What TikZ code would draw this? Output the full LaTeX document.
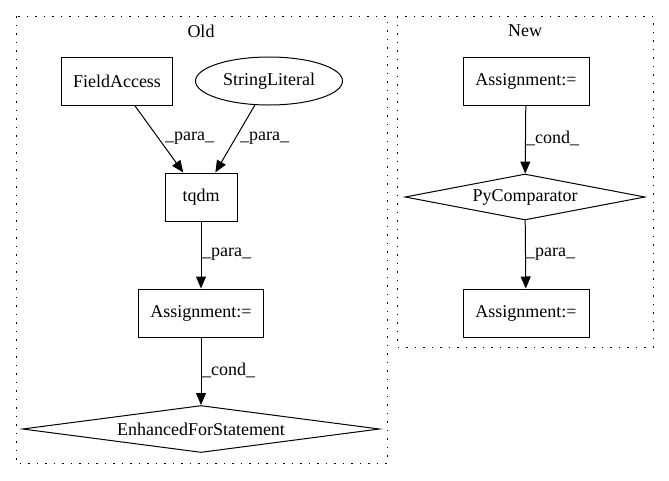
\documentclass[tikz,border=0pt]{standalone}
\usepackage{fontspec}
\setmainfont{Liberation Serif}
\usepackage{tikz}
\usetikzlibrary{shapes.geometric}
\usetikzlibrary{arrows.meta}

\begin{document}
\begin{tikzpicture}[x=1pt, y=-1pt, font=\fontsize{18}{21}\selectfont]
            \tikzset{box/.style = {draw, line width=1pt, rectangle, inner sep=0pt, minimum height=48pt}}
            \tikzset{ellip/.style = {draw, line width=1pt, ellipse, inner sep=0pt, minimum width=147pt, minimum height=48pt}}
            \tikzset{diam/.style = {draw, line width=1pt, diamond, inner sep=0pt}}
            \tikzset{edge/.style = {-{Triangle[length=12pt, width=10pt]}, line width=1pt}}
            \tikzset{lbl/.style = {anchor=west, inner sep=0pt}}
            \tikzset{cluster/.style = {line width=1pt, dash pattern=on 1.5pt off 7pt}}

            \useasboundingbox (0,0) rectangle (669,480);

            % old
            \draw[cluster] (16,16) rectangle (387,463);
            \node (oldtitle) at (201,31) {Old};
            \node[box, minimum width=111pt] (field) at (117,81) {FieldAccess};
            \node[ellip] (strlit) at (269,81) {StringLiteral};
            \node[box, minimum width=72pt] (tqdm) at (201,197) {tqdm};
            \node[box, minimum width=125pt] (oldasgn) at (201,313) {Assignment:=};
            \node[diam, minimum width=357pt, minimum height=47pt, aspect=7.6] (efs) at (201,429) {EnhancedForStatement};
            \draw[edge] (field) -- (tqdm);
            \draw[edge] (strlit) -- (tqdm);
            \draw[edge] (tqdm) -- (oldasgn);
            \draw[edge] (oldasgn) -- (efs);
            \node[lbl] (p1) at (165,138) {\_para\_};
            \node[lbl] (p2) at (240,138) {\_para\_};
            \node[lbl] (p3) at (202,254) {\_para\_};
            \node[lbl] (c1) at (202,370) {\_cond\_};

            % new
            \draw[cluster] (397,16) rectangle (653,347);
            \node (newtitle) at (525,31) {New};
            \node[box, minimum width=126pt] (newasgn1) at (526,81) {Assignment:=};
            \node[diam, minimum width=240pt, minimum height=46pt, aspect=5.2] (pycmp) at (525,197) {PyComparator};
            \node[box, minimum width=126pt] (newasgn2) at (526,313) {Assignment:=};
            \draw[edge] (newasgn1) -- (pycmp);
            \draw[edge] (pycmp) -- (newasgn2);
            \node[lbl] (c2) at (526,138) {\_cond\_};
            \node[lbl] (p4) at (526,254) {\_para\_};
\end{tikzpicture}
\end{document}
